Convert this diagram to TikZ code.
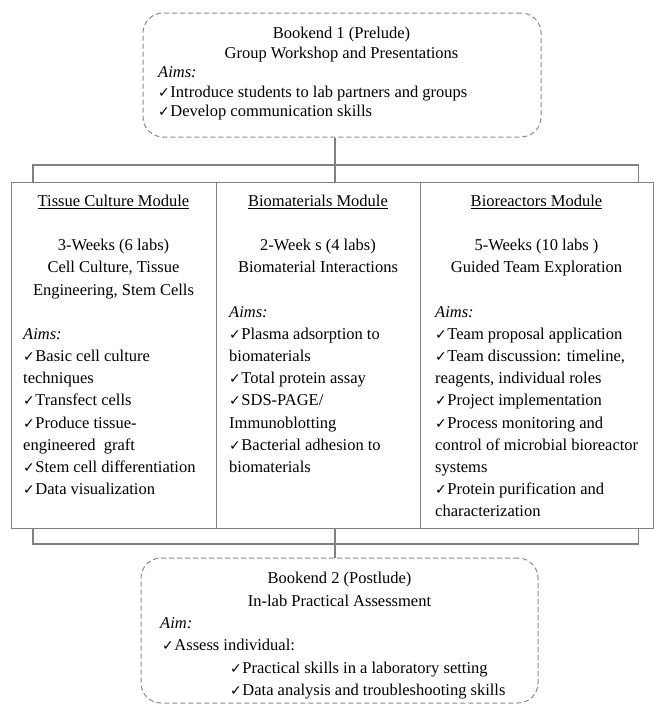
\documentclass[tikz,border=0pt]{standalone}
\usepackage{fontspec}
\setmainfont{Liberation Serif}
\newfontfamily\chkfont{DejaVu Sans}
\newcommand\ck{{\chkfont\fontsize{14pt}{14pt}\selectfont ✓}\hspace{0.5pt}}
\definecolor{linegray}{HTML}{808080}
\definecolor{dashgray}{HTML}{8A8A8A}
\begin{document}
\begin{tikzpicture}[x=1pt,y=-1pt,
  txt/.style={font=\fontsize{16.5pt}{22pt}\selectfont, inner sep=0pt, anchor=base west},
  ctxt/.style={txt, anchor=base},
  cell/.style={draw=linegray, line width=1.3pt, anchor=north west, minimum height=346pt, inner sep=0pt},
  bookend/.style={draw=dashgray, line width=1pt, dash pattern=on 5pt off 3pt, rounded corners=20pt, inner sep=0pt},
  conn/.style={draw=linegray, line width=1.3pt}]
\useasboundingbox (0,0) rectangle (654,705);

% bookends
\node[bookend, minimum width=398pt, minimum height=124pt] (bk1) at (342,75) {};
\node[bookend, minimum width=397pt, minimum height=145pt] (bk2) at (339.5,630.5) {};

% module cells
\node[cell, minimum width=205pt] (m1) at (11,182) {};
\node[cell, minimum width=204pt] (m2) at (216,182) {};
\node[cell, minimum width=233pt] (m3) at (420,182) {};

% connectors
\coordinate (topj) at (335,165);
\coordinate (botj) at (335,544);
\draw[conn] ([xshift=-7pt]bk1.south) -- ([xshift=-7pt]bk1.south |- m2.north);
\draw[conn] ([xshift=22pt]m1.north west) |- (topj) -| ([xshift=-16pt]m3.north east);
\draw[conn] ([xshift=-4.5pt]bk2.north |- m2.south) -- ([xshift=-4.5pt]bk2.north);
\draw[conn] ([xshift=22pt]m1.south west) |- (botj) -| ([xshift=-16pt]m3.south east);

% top bookend text
\node[ctxt] (t1) at (341.5,38.5) {Bookend 1 (Prelude)};
\node[ctxt] (t2) at (341.5,58) {Group Workshop and Presentations};
\node[txt] (t3) at (158,77.5) {\itshape Aims:};
\node[txt] (t4) at (158,97) {\ck Introduce students to lab partners and groups};
\node[txt] (t5) at (158,116.5) {\ck Develop communication skills};

% column 1
\foreach \k/\t [count=\i] in {0/{\underline{Tissue Culture Module}}, 2/{3-Weeks (6 labs)}, 3/{Cell Culture, Tissue}, 4/{Engineering, Stem Cells}}
  \node[ctxt] (a\i) at (113.5,{206.5+22.15*\k}) {\t};
\foreach \k/\t [count=\i] in {6/{\itshape Aims:}, 7/{\ck Basic cell culture}, 8/{techniques}, 9/{\ck Transfect cells}, 10/{\ck Produce tissue-}, 11/{engineered\ \ graft}, 12/{\ck Stem cell differentiation}, 13/{\ck Data visualization}}
  \node[txt] (b\i) at (23,{206.5+22.15*\k}) {\t};

% column 2
\foreach \k/\t [count=\i] in {0/{\underline{Biomaterials Module}}, 2/{2-Week s (4 labs)}, 3/{Biomaterial Interactions}}
  \node[ctxt] (c\i) at (318,{206.5+22.15*\k}) {\t};
\foreach \k/\t [count=\i] in {5/{\itshape Aims:}, 6/{\ck Plasma adsorption to}, 7/{biomaterials}, 8/{\ck Total protein assay}, 9/{\ck SDS-PAGE/}, 10/{Immunoblotting}, 11/{\ck Bacterial adhesion to}, 12/{biomaterials}}
  \node[txt] (d\i) at (229,{206.5+22.15*\k}) {\t};

% column 3
\foreach \k/\t [count=\i] in {0/{\underline{Bioreactors Module}}, 2/{5-Weeks (10 labs )}, 3/{Guided Team Exploration}}
  \node[ctxt] (e\i) at (536.5,{206.5+22.15*\k}) {\t};
\foreach \k/\t [count=\i] in {5/{\itshape Aims:}, 6/{\ck Team proposal application}, 7/{\ck Team discussion: timeline,}, 8/{reagents, individual roles}, 9/{\ck Project implementation}, 10/{\ck Process monitoring and}, 11/{control of microbial bioreactor}, 12/{systems}, 13/{\ck Protein purification and}, 14/{characterization}}
  \node[txt] (f\i) at (435,{206.5+22.15*\k}) {\t};

% bottom bookend text
\node[ctxt] (u1) at (339.5,583.5) {Bookend 2 (Postlude)};
\node[ctxt] (u2) at (339.5,606) {In-lab Practical Assessment};
\node[txt] (u3) at (160,628) {\itshape Aim:};
\node[txt] (u4) at (162,650.5) {\ck Assess individual:};
\node[txt] (u5) at (230,673) {\ck Practical skills in a laboratory setting};
\node[txt] (u6) at (230,695) {\ck Data analysis and troubleshooting skills};
\end{tikzpicture}
\end{document}
